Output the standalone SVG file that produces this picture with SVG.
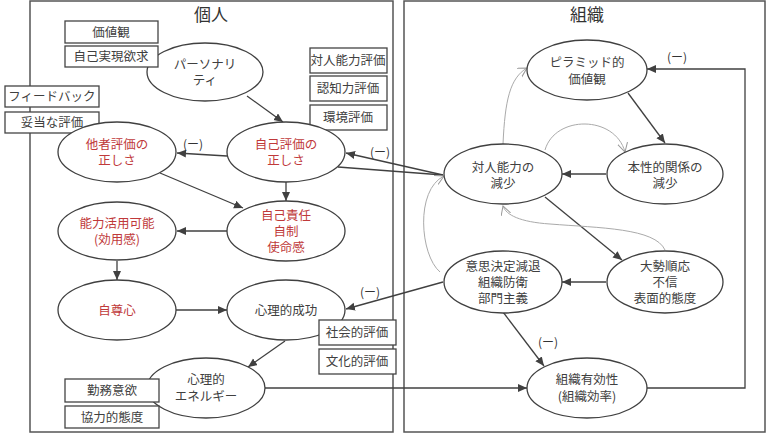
<svg xmlns="http://www.w3.org/2000/svg" width="768" height="434" viewBox="0 0 768 434">
<style>
text{font-family:"Noto Sans CJK JP","Noto Sans",sans-serif;font-size:12.5px;fill:#404040;text-anchor:middle}
.t{font-size:17px;fill:#333}
.r{fill:#c0393a}
.lb{font-size:12px;fill:#333}
.panel{fill:none;stroke:#555;stroke-width:1.5}
.box{fill:#fff;stroke:#444;stroke-width:1.3}
ellipse{fill:#fff;stroke:#404040;stroke-width:1.3}
.c{fill:none;stroke:#404040;stroke-width:1.3}
.g{fill:none;stroke:#aaa;stroke-width:1}
</style>
<defs>
<marker id="a" markerUnits="userSpaceOnUse" markerWidth="10" markerHeight="10" refX="9" refY="4" orient="auto"><path d="M0,0 L9,4 L0,8 z" fill="#404040"/></marker>
<marker id="o" markerUnits="userSpaceOnUse" markerWidth="12" markerHeight="12" refX="9" refY="5" orient="auto"><path d="M0,0 L9,5 L0,10" fill="none" stroke="#999" stroke-width="1"/></marker>
</defs>
<rect class="panel" x="30" y="1" width="363" height="431"/>
<rect class="panel" x="404" y="1" width="361" height="431"/>
<text class="t" x="211" y="21">個人</text>
<text class="t" x="587" y="21">組織</text>
<g id="connectors">
<path class="c" d="M247,96 L283,122" marker-end="url(#a)"/>
<path class="c" d="M227,156 L177,153" marker-end="url(#a)"/>
<path class="c" d="M286,182 L286,201" marker-end="url(#a)"/>
<path class="c" d="M160,173 L243,208" marker-end="url(#a)"/>
<path class="c" d="M227,231 L177,231" marker-end="url(#a)"/>
<path class="c" d="M117,261 L117,280" marker-end="url(#a)"/>
<path class="c" d="M176,310 L227,310" marker-end="url(#a)"/>
<path class="c" d="M285,341 L248,367" marker-end="url(#a)"/>
<path class="c" d="M265,388 L527,388" marker-end="url(#a)"/>
<path class="c" d="M443,175 L346,153" marker-end="url(#a)"/>
<path class="c" d="M443,175 L338,167"/>
<path class="c" d="M606,174 L562,174" marker-end="url(#a)"/>
<path class="c" d="M628,93 L665,143" marker-end="url(#a)"/>
<path class="c" d="M545,197 L622,260" marker-end="url(#a)"/>
<path class="c" d="M606,282 L562,282" marker-end="url(#a)"/>
<path class="c" d="M443,282 L346,309" marker-end="url(#a)"/>
<path class="c" d="M503,312 L544,366" marker-end="url(#a)"/>
<path class="c" d="M646,388 L745,388 L745,69 L647,69" marker-end="url(#a)"/>
<path class="g" d="M503,144 C505,100 510,78 527,68" marker-end="url(#o)"/>
<path class="g" d="M545,150 C555,115 615,115 625,152" marker-end="url(#o)"/>
<path class="g" d="M665,250 C655,228 600,228 550,224 C520,222 506,215 503,206" marker-end="url(#o)"/>
<path class="g" d="M440,272 C420,255 415,190 444,176" marker-end="url(#o)"/>
<text class="lb" x="193" y="149">(ー)</text>
<text class="lb" x="380" y="157">(ー)</text>
<text class="lb" x="370" y="297">(ー)</text>
<text class="lb" x="548" y="347">(ー)</text>
<text class="lb" x="677" y="62">(ー)</text>
</g>
<g id="personality"><ellipse cx="205" cy="72" rx="58" ry="29"/><text x="205" y="69">パーソナリ</text><text x="205" y="85">ティ</text></g>
<g id="box-kachikan"><rect class="box" x="65" y="21" width="93" height="22"/><text x="111" y="37">価値観</text></g>
<g id="box-jiko"><rect class="box" x="65" y="46" width="93" height="21"/><text x="111" y="61">自己実現欲求</text></g>
<g id="box-feedback"><rect class="box" x="5" y="86" width="94" height="21"/><text x="52" y="101">フィードバック</text></g>
<g id="box-datou"><rect class="box" x="5" y="112" width="94" height="21"/><text x="52" y="127">妥当な評価</text></g>
<g id="box-taijin"><rect class="box" x="310" y="48" width="77" height="25"/><text x="348" y="65">対人能力評価</text></g>
<g id="box-ninchi"><rect class="box" x="310" y="76" width="77" height="25"/><text x="348" y="93">認知力評価</text></g>
<g id="box-kankyo"><rect class="box" x="310" y="105" width="77" height="25"/><text x="348" y="122">環境評価</text></g>
<g id="tasha"><ellipse cx="117" cy="152" rx="59" ry="30"/><text class="r" x="117" y="149">他者評価の</text><text class="r" x="117" y="165">正しさ</text></g>
<g id="jikohyoka"><ellipse cx="286" cy="152" rx="59" ry="30"/><text class="r" x="286" y="149">自己評価の</text><text class="r" x="286" y="165">正しさ</text></g>
<g id="sekinin"><ellipse cx="286" cy="231" rx="59" ry="30"/><text class="r" x="286" y="220">自己責任</text><text class="r" x="286" y="236">自制</text><text class="r" x="286" y="252">使命感</text></g>
<g id="nouryoku"><ellipse cx="117" cy="231" rx="59" ry="29"/><text class="r" x="117" y="228">能力活用可能</text><text class="r" x="117" y="244">(効用感)</text></g>
<g id="sonshin"><ellipse cx="117" cy="310" rx="59" ry="30"/><text class="r" x="117" y="315">自尊心</text></g>
<g id="seikou"><ellipse cx="286" cy="310" rx="59" ry="30"/><text x="286" y="315">心理的成功</text></g>
<g id="box-shakai"><rect class="box" x="319" y="320" width="77" height="25"/><text x="357" y="337">社会的評価</text></g>
<g id="box-bunka"><rect class="box" x="319" y="349" width="77" height="25"/><text x="357" y="366">文化的評価</text></g>
<g id="energy"><ellipse cx="206" cy="388" rx="59" ry="30"/><text x="206" y="384">心理的</text><text x="206" y="401">エネルギー</text></g>
<g id="box-kinmu"><rect class="box" x="65" y="379" width="94" height="23"/><text x="112" y="395">勤務意欲</text></g>
<g id="box-kyouryoku"><rect class="box" x="65" y="406" width="94" height="22"/><text x="112" y="422">協力的態度</text></g>
<g id="pyramid"><ellipse cx="587" cy="70" rx="60" ry="30"/><text x="587" y="67">ピラミッド的</text><text x="587" y="84">価値観</text></g>
<g id="honsei"><ellipse cx="665" cy="174" rx="58" ry="30"/><text x="665" y="172">本性的関係の</text><text x="665" y="188">減少</text></g>
<g id="taijin"><ellipse cx="503" cy="174" rx="59" ry="30"/><text x="503" y="172">対人能力の</text><text x="503" y="188">減少</text></g>
<g id="ishi"><ellipse cx="503" cy="282" rx="59" ry="31"/><text x="503" y="271">意思決定減退</text><text x="503" y="287">組織防衛</text><text x="503" y="303">部門主義</text></g>
<g id="taisei"><ellipse cx="665" cy="282" rx="58" ry="31"/><text x="665" y="271">大勢順応</text><text x="665" y="287">不信</text><text x="665" y="303">表面的態度</text></g>
<g id="yukousei"><ellipse cx="587" cy="388" rx="60" ry="30"/><text x="587" y="384">組織有効性</text><text x="587" y="401">(組織効率)</text></g>
</svg>
